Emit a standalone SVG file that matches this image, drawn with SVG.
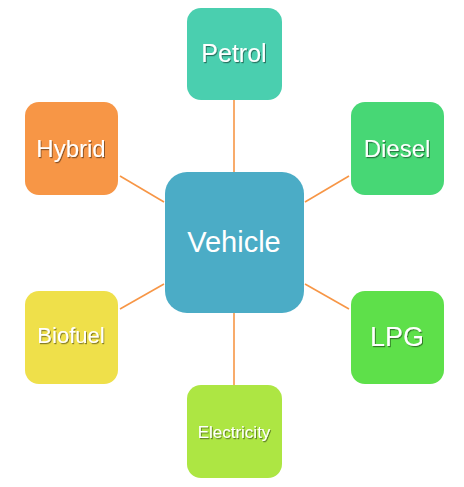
<svg xmlns="http://www.w3.org/2000/svg" width="464" height="487" viewBox="0 0 464 487">
<defs>
<style>
.lbl{font-family:"Liberation Sans",Arial,sans-serif;fill:#fff;text-anchor:middle}
.sh{filter:url(#ts)}
.conn line{stroke:#F79646;stroke-width:1.6}
</style>
<filter id="ts" x="-10%" y="-20%" width="130%" height="150%">
<feDropShadow dx="1" dy="1.2" stdDeviation="0.6" flood-color="#000" flood-opacity="0.45"/>
</filter>
</defs>
<rect width="464" height="487" fill="#fff"/>
<g class="conn" id="connectors">
<line x1="234" y1="100" x2="234" y2="172"/>
<line x1="234" y1="313" x2="234" y2="385"/>
<line x1="120" y1="176" x2="164" y2="202"/>
<line x1="349" y1="176" x2="305" y2="202"/>
<line x1="120" y1="309" x2="164" y2="284"/>
<line x1="349" y1="309" x2="305" y2="284"/>
</g>
<g id="vehicle">
<rect x="165" y="172" width="139" height="141" rx="22" fill="#4BACC6"/>
<text class="lbl" x="234" y="252" font-size="29">Vehicle</text>
</g>
<g id="petrol">
<rect x="187" y="8" width="95" height="92" rx="14" fill="#4ACFAF"/>
<text class="lbl sh" x="234" y="62" font-size="25">Petrol</text>
</g>
<g id="diesel">
<rect x="351" y="102" width="93" height="93" rx="14" fill="#47D775"/>
<text class="lbl sh" x="397" y="157" font-size="24">Diesel</text>
</g>
<g id="lpg">
<rect x="351" y="291" width="93" height="93" rx="14" fill="#5EE04A"/>
<text class="lbl sh" x="397" y="346" font-size="27">LPG</text>
</g>
<g id="electricity">
<rect x="187" y="385" width="95" height="93" rx="14" fill="#ADE643"/>
<text class="lbl sh" x="234" y="438" font-size="17">Electricity</text>
</g>
<g id="biofuel">
<rect x="25" y="291" width="93" height="93" rx="14" fill="#EFE04A"/>
<text class="lbl sh" x="71" y="343" font-size="22">Biofuel</text>
</g>
<g id="hybrid">
<rect x="25" y="102" width="93" height="93" rx="14" fill="#F79646"/>
<text class="lbl sh" x="71" y="157" font-size="24">Hybrid</text>
</g>
</svg>
